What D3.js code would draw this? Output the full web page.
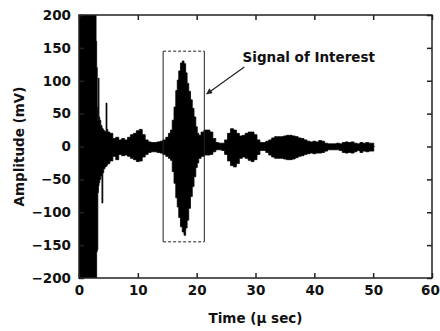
<!DOCTYPE html>
<html>
<head>
<meta charset="utf-8">
<script src="https://cdn.jsdelivr.net/npm/d3@7"></script>
<style>
  body { margin: 0; background: #fff; }
  text { font-family: "DejaVu Sans", sans-serif; font-weight: bold; font-size: 13.5px; fill: #111; }
</style>
</head>
<body>
<svg id="chart" width="440" height="331"></svg>
<script>
const time = [
  0, 2.85, 2.95, 3.05, 3.15, 3.25, 3.35, 3.45, 3.6, 3.8,
  4.0, 4.1, 4.3, 4.5, 4.7, 4.8, 5.0, 5.5, 6.0, 6.5,
  7.0, 7.5, 8.0, 8.5, 9.0, 9.5, 10.0, 10.5, 11.0, 11.5,
  12.0, 12.5, 13.0, 13.5, 14.0, 14.5, 15.0, 15.4, 15.7, 16.0,
  16.3, 16.6, 16.8, 17.1, 17.4, 17.7, 18.0, 18.25, 18.5, 18.8,
  19.1, 19.4, 19.7, 20.0, 20.2, 20.5, 21.0, 21.5, 22.0, 22.5,
  23.0, 23.5, 24.0, 24.5, 25.0, 25.5, 26.0, 26.5, 27.0, 27.5,
  28.0, 28.5, 29.0, 29.5, 30.0, 30.5, 31.0, 31.5, 32.0, 32.5,
  33.0, 33.5, 34.0, 34.5, 35.0, 35.5, 36.0, 36.5, 37.0, 37.5,
  38.0, 38.5, 39.0, 39.5, 40.0, 40.5, 41.0, 41.5, 42.0, 42.5,
  43.0, 43.5, 44.0, 44.5, 45.0, 45.5, 46.0, 46.5, 47.0, 47.5,
  48.0, 48.5, 49.0, 49.5, 50.0, 50.2
];
const upper = [
  200, 200, 160, 120, 60, 40, 104, 45, 40, 32,
  28, 26, 24, 22, 66, 26, 22, 20, 12, 14,
  10, 12, 10, 14, 18, 20, 24, 26, 18, 10,
  7, 6, 6, 7, 8, 10, 14, 20, 25, 40,
  60, 85, 101, 115, 127, 130, 126, 112, 96, 84,
  71, 58, 45, 30, 20, 17, 22, 25, 25, 22,
  12, 6, 5, 5, 10, 20, 27, 25, 20, 16,
  17, 20, 22, 22, 18, 10, 6, 6, 8, 10,
  13, 15, 15, 15, 16, 17, 17, 16, 15, 13,
  12, 10, 8, 7, 8, 7, 9, 8, 5, 4,
  4, 4, 5, 4, 6, 7, 6, 7, 5, 4,
  6, 5, 6, 5, 5, 0
];
const lower = [
  -200, -200, -200, -160, -157, -70, -60, -55, -50, -45,
  -86, -40, -34, -31, -30, -28, -26, -22, -15, -20,
  -12, -14, -13, -15, -18, -20, -23, -22, -16, -12,
  -9, -8, -8, -9, -10, -12, -15, -18, -21, -38,
  -56, -78, -92, -108, -122, -130, -135, -124, -112, -94,
  -76, -61, -46, -32, -25, -18, -15, -13, -13, -12,
  -8, -5, -5, -6, -12, -22, -29, -31, -26, -18,
  -16, -18, -21, -23, -20, -12, -6, -6, -9, -13,
  -16, -18, -18, -18, -19, -20, -20, -19, -17, -15,
  -14, -12, -11, -10, -11, -10, -10, -9, -7, -5,
  -5, -5, -5, -6, -9, -10, -9, -10, -8, -6,
  -9, -7, -8, -7, -7, 0
];

const xTicks = [0, 10, 20, 30, 40, 50, 60];
const yTicks = [-200, -150, -100, -50, 0, 50, 100, 150, 200];

// box around the signal of interest: [t0, t1, amin, amax]
const roiBox = [14.3, 21.3, -145, 145];
const calloutLabel = 'Signal of Interest';
const calloutAt = [27.8, 128];
const arrowFrom = [28.1, 121];
const arrowTo = [21.7, 80];

const width = 440, height = 331;
const margin = { top: 15, right: 8, bottom: 53, left: 79 };

const svg = d3.select('#chart');
const x = d3.scaleLinear().domain([0, 60]).range([margin.left, width - margin.right]);
const y = d3.scaleLinear().domain([-200, 200]).range([height - margin.bottom, margin.top]);

const defs = svg.append('defs');
defs.append('clipPath').attr('id', 'plotClip')
  .append('rect')
  .attr('x', x(0)).attr('y', y(200))
  .attr('width', x(60) - x(0)).attr('height', y(-200) - y(200));
defs.append('marker')
  .attr('id', 'head')
  .attr('viewBox', '0 0 10 10')
  .attr('refX', 9).attr('refY', 5)
  .attr('markerWidth', 7).attr('markerHeight', 6)
  .attr('markerUnits', 'userSpaceOnUse')
  .attr('orient', 'auto')
  .append('path').attr('d', 'M0,0L10,5L0,10Z').attr('fill', '#222');

// waveform
const rows = time.map((t, i) => ({ t, hi: upper[i], lo: lower[i] }));
const area = d3.area()
  .x(d => x(d.t))
  .y0(d => y(d.lo))
  .y1(d => y(d.hi))
  .curve(d3.curveStep);

svg.append('path')
  .datum(rows)
  .attr('clip-path', 'url(#plotClip)')
  .attr('d', area)
  .attr('fill', '#000')
  .attr('stroke', '#000')
  .attr('stroke-width', 0.8);

// axes, ticks pointing inward
const tick = 5;
svg.append('g')
  .attr('class', 'x-axis')
  .attr('transform', `translate(0,${y(-200)})`)
  .call(d3.axisBottom(x).tickValues(xTicks).tickSizeInner(-tick).tickSizeOuter(0).tickPadding(7));
svg.append('g')
  .attr('transform', `translate(${x(0)},0)`)
  .call(d3.axisLeft(y).tickValues(yTicks).tickSizeInner(-tick).tickSizeOuter(0).tickPadding(8));
svg.append('g')
  .attr('transform', `translate(0,${y(200)})`)
  .call(d3.axisTop(x).tickValues(xTicks).tickSizeInner(-tick).tickSizeOuter(0).tickFormat(''));
svg.append('g')
  .attr('transform', `translate(${x(60)},0)`)
  .call(d3.axisRight(y).tickValues(yTicks).tickSizeInner(-tick).tickSizeOuter(0).tickFormat(''));

svg.selectAll('.domain').remove();
svg.selectAll('.tick line').attr('stroke', '#222').attr('stroke-width', 1.5);
svg.selectAll('.tick text').attr('font-family', null).attr('font-size', null).attr('fill', '#111');
// last x label sits right at the window edge
svg.selectAll('.x-axis .tick text').filter(d => d === 60).attr('dx', -2);

svg.append('rect')
  .attr('x', x(0)).attr('y', y(200))
  .attr('width', x(60) - x(0)).attr('height', y(-200) - y(200))
  .attr('fill', 'none').attr('stroke', '#222').attr('stroke-width', 1.5);

// annotation box: solid sides, dashed top and bottom
const [b0, b1, bmin, bmax] = roiBox;
const ann = svg.append('g').attr('stroke', '#222').attr('stroke-width', 1).attr('fill', 'none');
ann.append('line').attr('x1', x(b0)).attr('x2', x(b0)).attr('y1', y(bmax)).attr('y2', y(bmin));
ann.append('line').attr('x1', x(b1)).attr('x2', x(b1)).attr('y1', y(bmax)).attr('y2', y(bmin));
ann.append('line').attr('x1', x(b0)).attr('x2', x(b1)).attr('y1', y(bmax)).attr('y2', y(bmax))
  .attr('stroke-dasharray', '3,2');
ann.append('line').attr('x1', x(b0)).attr('x2', x(b1)).attr('y1', y(bmin)).attr('y2', y(bmin))
  .attr('stroke-dasharray', '3,2');

svg.append('line')
  .attr('x1', x(arrowFrom[0])).attr('y1', y(arrowFrom[1]))
  .attr('x2', x(arrowTo[0])).attr('y2', y(arrowTo[1]))
  .attr('stroke', '#222').attr('stroke-width', 1.2)
  .attr('marker-end', 'url(#head)');

svg.append('text')
  .attr('x', x(calloutAt[0])).attr('y', y(calloutAt[1]))
  .text(calloutLabel);

// axis titles
svg.append('text')
  .attr('x', (x(0) + x(60)) / 2).attr('y', 323)
  .attr('text-anchor', 'middle')
  .text('Time (\u03bc sec)');
svg.append('text')
  .attr('transform', `translate(24,${(y(-200) + y(200)) / 2}) rotate(-90)`)
  .attr('text-anchor', 'middle')
  .text('Amplitude (mV)');
</script>
</body>
</html>
